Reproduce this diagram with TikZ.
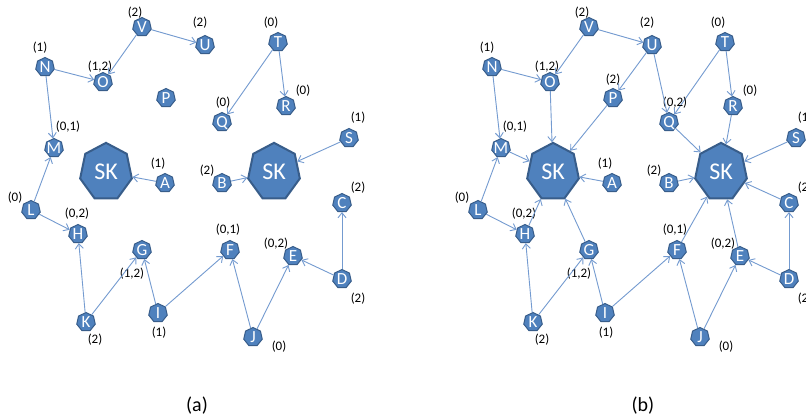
\documentclass[tikz,border=0pt]{standalone}
\usepackage{fontspec}
\setmainfont{Carlito}
\usetikzlibrary{shapes.geometric,arrows.meta}
\definecolor{nfill}{RGB}{79,129,189}
\definecolor{nborder}{RGB}{56,93,138}
\definecolor{conncol}{RGB}{116,155,208}
\newcommand\nl[1]{\makebox[0pt]{#1}}
\tikzset{
 vtx/.style={regular polygon, regular polygon sides=7, minimum size=19pt, inner sep=0pt,
   fill=nfill, draw=nborder, line width=1pt, text=white,
   font=\fontsize{17}{17}\selectfont, text height=11pt, text depth=0pt},
 sknode/.style={regular polygon, regular polygon sides=7, minimum size=53pt, inner sep=0pt,
   fill=nfill, draw=nborder, line width=2pt, text=white,
   font=\fontsize{24}{24}\selectfont, transform shape},
 numlab/.style={font=\fontsize{13}{13}\selectfont, inner sep=0pt, text=black},
 conn/.style={draw=conncol, line width=0.9pt, -{Straight Barb[length=5pt,width=8pt]}},
 captxt/.style={font=\fontsize{20}{20}\selectfont, inner sep=0pt, text=black}
}
\newcommand\drawpanel[2]{%
 \begin{scope}[xshift=#2]
  \node[vtx] (#1V) at (142,27) {\nl{V}};
  \node[vtx] (#1U) at (205,45) {\nl{U}};
  \node[vtx] (#1N) at (45,67) {\nl{N}};
  \node[vtx] (#1O) at (103,82) {\nl{O}};
  \node[vtx] (#1P) at (166,98) {\nl{P}};
  \node[vtx] (#1T) at (278,42) {\nl{T}};
  \node[vtx] (#1R) at (286,106) {\nl{R}};
  \node[vtx] (#1Q) at (222,122) {\nl{Q}};
  \node[vtx] (#1M) at (54,148) {\nl{M}};
  \node[vtx] (#1A) at (165,183) {\nl{A}};
  \node[vtx] (#1B) at (222,183) {\nl{B}};
  \node[vtx] (#1S) at (349,138) {\nl{S}};
  \node[vtx] (#1L) at (31,210) {\nl{L}};
  \node[vtx] (#1H) at (78,234) {\nl{H}};
  \node[vtx] (#1C) at (342,203) {\nl{C}};
  \node[vtx] (#1G) at (142,250) {\nl{G}};
  \node[vtx] (#1F) at (230,250) {\nl{F}};
  \node[vtx] (#1E) at (293,256) {\nl{E}};
  \node[vtx] (#1D) at (342,279) {\nl{D}};
  \node[vtx] (#1I) at (158,313) {\nl{I}};
  \node[vtx] (#1K) at (86,322) {\nl{K}};
  \node[vtx] (#1J) at (253,337) {\nl{J}};
  \begin{scope}[shift={(106,172)}, yscale=1.1]
   \node[sknode] (#1SKa) at (0,0) {\scalebox{1}[0.909]{SK}};
  \end{scope}
  \begin{scope}[shift={(274,172)}, yscale=1.1]
   \node[sknode] (#1SKb) at (0,0) {\scalebox{1}[0.909]{SK}};
  \end{scope}
  \node[numlab] (#1lV) at (135,13) {(2)};
  \node[numlab] (#1lU) at (200,23) {(2)};
  \node[numlab] (#1lN) at (40,48) {(1)};
  \node[numlab] (#1lO) at (100,67) {(1,2)};
  \node[numlab] (#1lT) at (271,23) {(0)};
  \node[numlab] (#1lR) at (303,91) {(0)};
  \node[numlab] (#1lM) at (68,127) {(0,1)};
  \node[numlab] (#1lA) at (158,164) {(1)};
  \node[numlab] (#1lB) at (207,171) {(2)};
  \node[numlab] (#1lS) at (358,118) {(1)};
  \node[numlab] (#1lL) at (15,198) {(0)};
  \node[numlab] (#1lH) at (77,214) {(0,2)};
  \node[numlab] (#1lC) at (358,188) {(2)};
  \node[numlab] (#1lG) at (132,274) {(1,2)};
  \node[numlab] (#1lF) at (228,230) {(0,1)};
  \node[numlab] (#1lE) at (276,244) {(0,2)};
  \node[numlab] (#1lD) at (358,299) {(2)};
  \node[numlab] (#1lI) at (159,333) {(1)};
  \node[numlab] (#1lK) at (95,340) {(2)};
  \node[numlab] (#1lJ) at (279,347) {(0)};
 \end{scope}
 \draw[conn] (#1V) -- (#1O);
 \draw[conn] (#1V) -- (#1U);
 \draw[conn] (#1N) -- (#1O);
 \draw[conn] (#1N) -- (#1M);
 \draw[conn] (#1T) -- (#1Q);
 \draw[conn] (#1T) -- (#1R);
 \draw[conn] (#1S) -- (#1SKb);
 \draw[conn] (#1A) -- (#1SKa);
 \draw[conn] (#1B) -- (#1SKb);
 \draw[conn] (#1L) -- (#1M);
 \draw[conn] (#1L) -- (#1H);
 \draw[conn] (#1K) -- (#1H);
 \draw[conn] (#1K) -- (#1G);
 \draw[conn] (#1I) -- (#1G);
 \draw[conn] (#1I) -- (#1F);
 \draw[conn] (#1J) -- (#1F);
 \draw[conn] (#1J) -- (#1E);
 \draw[conn] (#1D) -- (#1E);
 \draw[conn] (#1D) -- (#1C);
}
\begin{document}
\begin{tikzpicture}[x=1pt,y=-1pt]
 \useasboundingbox (0,0) rectangle (806,418);
 \fill[white] (0,0) rectangle (806,418);
 % panel (a)
 \drawpanel{a}{0pt}
 \node[numlab] (alQ) at (223,103) {(0)};
 \node[captxt] (capa) at (197,406) {(a)};
 % panel (b)
 \drawpanel{b}{447pt}
 \node[numlab] (blQ) at (675,103) {(0,2)};
 \node[numlab] (blP) at (613,80) {(2)};
 \node[captxt] (capb) at (643,406) {(b)};
 \draw[conn] (bU) -- (bP);
 \draw[conn] (bU) -- (bQ);
 \draw[conn] (bO) -- (bSKa);
 \draw[conn] (bP) -- (bSKa);
 \draw[conn] (bM) -- (bSKa);
 \draw[conn] (bH) -- (bSKa);
 \draw[conn] (bG) -- (bSKa);
 \draw[conn] (bQ) -- (bSKb);
 \draw[conn] (bR) -- (bSKb);
 \draw[conn] (bC) -- (bSKb);
 \draw[conn] (bF) -- (bSKb);
 \draw[conn] (bE) -- (bSKb);
\end{tikzpicture}
\end{document}
